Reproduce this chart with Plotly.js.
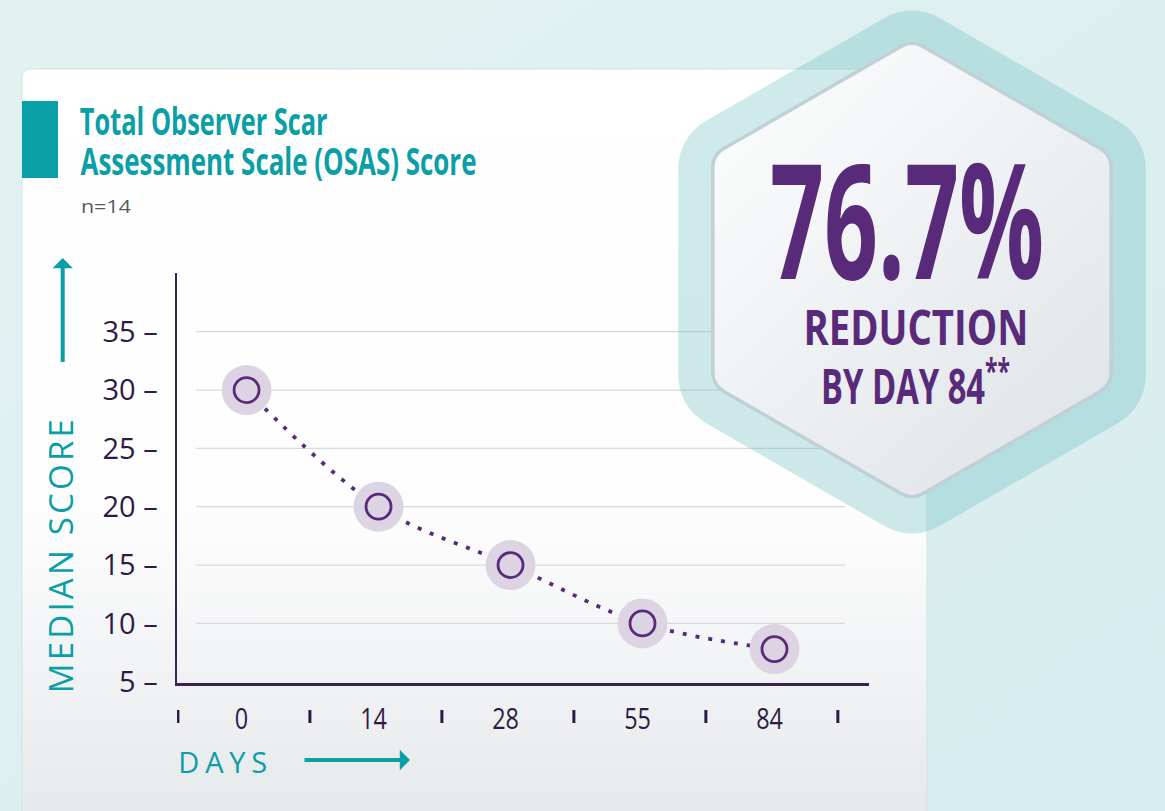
<!DOCTYPE html>
<html><head><meta charset="utf-8">
<script src="https://cdn.plot.ly/plotly-3.0.1.min.js"></script>
<style>html,body{margin:0;padding:0;overflow:hidden;background:#e0f0f0}#chart{width:1165px;height:811px}</style>
</head><body><div id="chart"></div>
<script>
// ---------- data ----------
const days = ['0', '14', '28', '55', '84'];
const medianScore = [30, 20, 15, 10, 7.8];
const yTickValues = [5, 10, 15, 20, 25, 30, 35];
const yTickLabels = ['5 –', '10 –', '15 –', '20 –', '25 –', '30 –', '35 –'];
const titleLines = ['Total Observer Scar', 'Assessment Scale (OSAS) Score'];
const sampleSize = 'n=14';
const headline = '76.7%';
const headlineSub = ['REDUCTION', 'BY DAY 84<sup>**</sup>'];
const yAxisLabel = 'MEDIAN SCORE';
const xAxisLabel = 'DAYS';

// ---------- geometry / style ----------
const W = 1165, H = 811, ML = 177, MR = 1165 - 869, MT = 273, MB = 811 - 683;
const PW = W - ML - MR, PH = H - MT - MB;
const P = (x, y) => ({x: (x - ML) / PW, y: 1 - (y - MT) / PH});
const PURPLE = '#5a2a7a', TEAL = '#0a9ea6', DARK = '#2d1b45';

function roundedHex(cx, cy, R, r) {
  const v = [];
  for (let k = 0; k < 6; k++) {
    const a = (-90 + 60 * k) * Math.PI / 180;
    v.push([cx + R * Math.cos(a), cy + R * Math.sin(a)]);
  }
  const t = r / Math.tan(Math.PI / 3);
  let d = '';
  for (let k = 0; k < 6; k++) {
    const p = v[k], pr = v[(k + 5) % 6], nx = v[(k + 1) % 6];
    const a = [p[0] + (pr[0] - p[0]) * t / R, p[1] + (pr[1] - p[1]) * t / R];
    const b = [p[0] + (nx[0] - p[0]) * t / R, p[1] + (nx[1] - p[1]) * t / R];
    d += (k === 0 ? 'M' : 'L') + a[0].toFixed(1) + ',' + a[1].toFixed(1) +
         ' A' + r + ',' + r + ' 0 0 1 ' + b[0].toFixed(1) + ',' + b[1].toFixed(1) + ' ';
  }
  return d + 'Z';
}
const svgURI = s => 'data:image/svg+xml;charset=utf-8,' + encodeURIComponent(s);

const bgSVG = `<svg xmlns="http://www.w3.org/2000/svg" width="${W}" height="${H}" viewBox="0 0 ${W} ${H}">
<defs>
<linearGradient id="bg" x1="0" y1="0" x2="1" y2="1"><stop offset="0" stop-color="#e3f2f1"/><stop offset="1" stop-color="#d6ecee"/></linearGradient>
<linearGradient id="card" gradientUnits="userSpaceOnUse" x1="0" y1="69" x2="0" y2="811"><stop offset="0" stop-color="#ffffff"/><stop offset="0.6" stop-color="#fdfdfd"/><stop offset="1" stop-color="#e6e9eb"/></linearGradient>
</defs>
<rect width="${W}" height="${H}" fill="url(#bg)"/>
<rect x="22" y="69" width="905" height="820" rx="8" fill="url(#card)" stroke="#d3e3e4" stroke-width="1"/>
</svg>`;

const hexSVG = `<svg xmlns="http://www.w3.org/2000/svg" width="${W}" height="${H}" viewBox="0 0 ${W} ${H}">
<defs>
<linearGradient id="hg" x1="0.15" y1="0.05" x2="0.9" y2="0.95"><stop offset="0" stop-color="#fbfcfc"/><stop offset="1" stop-color="#dfe4e8"/></linearGradient>
</defs>
<path d="${roundedHex(912, 272, 270, 55)}" fill="rgba(95,185,190,0.3)"/>
<path d="${roundedHex(912, 270, 230, 22)}" fill="url(#hg)" stroke="#bfd0d6" stroke-width="3.5"/>
</svg>`;

const img = (src, layer) => ({source: svgURI(src), xref: 'paper', yref: 'paper',
  x: -ML / PW, y: 1 + MT / PH, sizex: W / PW, sizey: H / PH,
  xanchor: 'left', yanchor: 'top', sizing: 'stretch', layer: layer});

// ---------- traces ----------
const traces = [
  {x: days, y: medianScore, mode: 'lines', hoverinfo: 'skip',
   line: {shape: 'spline', color: PURPLE, width: 3.8, dash: '4px,9px'}},
  {x: days, y: medianScore, mode: 'markers', hoverinfo: 'skip',
   marker: {size: 50, color: '#ddd4e3', line: {width: 0}}},
  {x: days, y: medianScore, mode: 'markers', hoverinfo: 'skip',
   marker: {symbol: 'circle-open', size: 25, color: PURPLE, line: {width: 2.8}}}
];

// ---------- shapes ----------
const shapes = [];
yTickValues.filter(v => v > yTickValues[0]).forEach(v => shapes.push({
  type: 'line', xref: 'x', yref: 'y', x0: -0.383, x1: 4.534, y0: v, y1: v,
  line: {color: '#d9d9de', width: 1.2}, layer: 'below'}));
for (let i = 0; i <= days.length; i++) shapes.push({
  type: 'line', xref: 'x', yref: 'paper', x0: i - 0.52, x1: i - 0.52,
  y0: P(0, 710).y, y1: P(0, 723).y, line: {color: DARK, width: 3}});
shapes.push({type: 'rect', xref: 'paper', yref: 'paper',
  x0: P(22, 0).x, x1: P(58, 0).x, y0: P(0, 101).y, y1: P(0, 178).y,
  fillcolor: TEAL, line: {width: 0}});

// ---------- annotations ----------
const ann = [];
const fits = [];
function addText(text, cx, cy, font, opts) {
  const p = P(cx, cy);
  ann.push(Object.assign({text: text, x: p.x, y: p.y, xref: 'paper', yref: 'paper',
    xanchor: 'center', yanchor: 'middle', showarrow: false, font: font}, opts || {}));
  return ann.length - 1;
}
const titleFont = {family: 'Open Sans', size: 37, color: TEAL, weight: 700};
fits.push([addText(titleLines[0], 204, 120.5, titleFont), 248]);
fits.push([addText(titleLines[1], 278, 160.5, titleFont), 396]);
fits.push([addText(sampleSize, 105.5, 206, {family: 'Open Sans', size: 18, color: '#58595b'}), 50]);
fits.push([addText(headline, 907, 217, {family: 'Open Sans', size: 160, color: PURPLE, weight: 700}), 274]);
fits.push([addText(headlineSub[0], 915.5, 326, {family: 'Open Sans', size: 49, color: PURPLE, weight: 700}), 225]);
fits.push([addText(headlineSub[1], 915.5, 382, {family: 'Open Sans', size: 49, color: PURPLE, weight: 700}), 189]);
const spaced = [];
spaced.push([addText(yAxisLabel, 59.5, 556, {family: 'Open Sans', size: 33, color: TEAL}, {textangle: -90}), 274]);
spaced.push([addText(xAxisLabel, 222.5, 761.5, {family: 'Open Sans', size: 29, color: TEAL}), 89]);

function arrow(hx, hy, ax, ay) {
  const p = P(hx, hy);
  ann.push({text: ' ', font: {size: 1}, x: p.x, y: p.y, xref: 'paper', yref: 'paper',
    showarrow: true, ax: ax, ay: ay, arrowhead: 1, arrowsize: 0.85, arrowwidth: 4,
    arrowcolor: TEAL, standoff: 0, startstandoff: 0});
}
arrow(62.7, 258, 0, 106);
arrow(410, 760, -107, 0);

// ---------- layout ----------
const tickFont = {family: 'Open Sans', size: 29, color: DARK};
const layout = {
  width: W, height: H, margin: {l: ML, r: MR, t: MT, b: MB, pad: 0},
  paper_bgcolor: '#e0f0f0', plot_bgcolor: 'rgba(0,0,0,0)', showlegend: false,
  xaxis: {type: 'category', range: [-0.527, 4.716], showline: true, linecolor: '#3b2252',
    linewidth: 2.5, showgrid: false, zeroline: false, ticks: '',
    tickfont: {family: 'Open Sans', size: 30, color: DARK},
    ticklabelstandoff: 8, ticklabelshift: -5, fixedrange: true},
  yaxis: {range: [4.89, 40.03], tickmode: 'array', tickvals: yTickValues, ticktext: yTickLabels,
    showline: true, linecolor: '#3b2252', linewidth: 2.5, showgrid: false, zeroline: false,
    ticks: '', tickfont: tickFont, ticklabelstandoff: 11, fixedrange: true},
  shapes: shapes, annotations: ann,
  images: [img(bgSVG, 'below'), img(hexSVG, 'above')]
};

function scaleText(el, s) {
  const bb = el.getBBox();
  const cx = bb.x + bb.width / 2;
  const prev = el.getAttribute('transform') || '';
  el.setAttribute('transform', `${prev} translate(${cx},0) scale(${s},1) translate(${-cx},0)`);
}
function annText(i) {
  return document.querySelector(`.annotation[data-index="${i}"] text.annotation-text`);
}

Plotly.newPlot('chart', traces, layout, {displayModeBar: false, staticPlot: true}).then(() => {
  fits.forEach(([i, target]) => {
    const el = annText(i); if (!el) return;
    const w = el.getBBox().width; if (w > 0) scaleText(el, target / w);
  });
  spaced.forEach(([i, target]) => {
    const el = annText(i); if (!el) return;
    const n = el.textContent.length;
    const L = el.getComputedTextLength();
    const sp = Math.max(0, (target - L) / (n - 1));
    el.style.letterSpacing = sp + 'px';
    const prev = el.getAttribute('transform') || '';
    el.setAttribute('transform', `${prev} translate(${sp / 2},0)`);
  });
  document.querySelectorAll('.xtick text').forEach(el => scaleText(el, 0.78));
});
</script></body></html>
